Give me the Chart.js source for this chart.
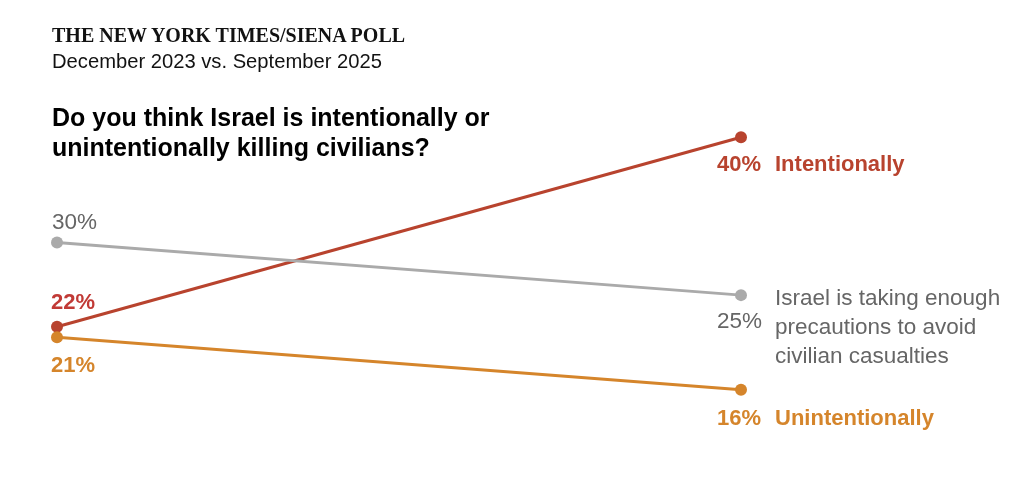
<!DOCTYPE html>
<html>
<head>
<meta charset="utf-8">
<script src="https://cdn.jsdelivr.net/npm/chart.js@4"></script>
<style>
  html, body { margin: 0; padding: 0; background: #fff; }
  #wrap { position: relative; width: 1024px; height: 483px; overflow: hidden; }
  #myChart { position: absolute; left: 0; top: 0; }
  .head { position: absolute; left: 52px; color: #121212; white-space: nowrap; }
  .kicker { top: 24px; font-family: "Liberation Serif", serif; font-weight: bold; font-size: 20px; }
  .sub { top: 50px; font-family: "Liberation Sans", sans-serif; font-size: 20.2px; }
  .question { top: 102px; font-family: "Liberation Sans", sans-serif; font-weight: bold; font-size: 25px; line-height: 30px; color: #000; }
</style>
</head>
<body>
<div id="wrap">
  <canvas id="myChart" width="1024" height="483"></canvas>
  <div class="head kicker">THE NEW YORK TIMES/SIENA POLL</div>
  <div class="head sub">December 2023 vs. September 2025</div>
  <div class="head question">Do you think Israel is intentionally or<br>unintentionally killing civilians?</div>
</div>
<script>
// data
const dates = ["December 2023", "September 2025"];
const intentionally = [22, 40];
const unintentionally = [21, 16];
const precautions = [30, 25];
const answers = ["Intentionally", "Unintentionally"];
const precautionLines = ["Israel is taking enough", "precautions to avoid", "civilian casualties"];

const red = "#b8432e";
const orange = "#d5852b";
const gray = "#aaaaaa";
const labelGray = "#666666";
const sans = "'Liberation Sans', Arial, sans-serif";

//labels drawn next to the points
const labelsPlugin = {
  id: "pointLabels",
  afterDatasetsDraw(chart) {
    const c = chart.ctx;
    const x = chart.scales.x;
    const y = chart.scales.y;
    const x0 = x.getPixelForValue(0);
    const x1 = x.getPixelForValue(1);
    c.save();
    c.textBaseline = "alphabetic";

    // left side
    c.textAlign = "left";
    c.font = "22.5px " + sans;
    c.fillStyle = labelGray;
    c.fillText(precautions[0] + "%", x0 - 5, y.getPixelForValue(precautions[0]) - 14);
    c.font = "bold 22px " + sans;
    c.fillStyle = "#c13a36";
    c.fillText(intentionally[0] + "%", x0 - 6, y.getPixelForValue(intentionally[0]) - 18);
    c.fillStyle = orange;
    c.fillText(unintentionally[0] + "%", x0 - 6, y.getPixelForValue(unintentionally[0]) + 35);

    // right side
    const ry = y.getPixelForValue(intentionally[1]) + 34;
    const oy = y.getPixelForValue(unintentionally[1]) + 35;
    c.fillStyle = red;
    c.fillText(intentionally[1] + "%", x1 - 24, ry);
    c.fillText(answers[0], x1 + 34, ry);
    c.fillStyle = orange;
    c.fillText(unintentionally[1] + "%", x1 - 24, oy);
    c.fillText(answers[1], x1 + 34, oy);

    c.font = "22.5px " + sans;
    c.fillStyle = labelGray;
    c.textAlign = "right";
    const gy = y.getPixelForValue(precautions[1]);
    c.fillText(precautions[1] + "%", x1 + 21, gy + 33);
    c.textAlign = "left";
    precautionLines.forEach((t, i) => c.fillText(t, x1 + 34, gy + 10 + i * 29));
    c.restore();
  }
};

const ctx = document.getElementById("myChart");

const chart = new Chart(ctx, {
  type: "line",
  data: {
    labels: dates,
    datasets: [
      { label: "Israel is taking enough precautions", data: precautions, borderColor: gray, backgroundColor: gray },
      { label: "Unintentionally", data: unintentionally, borderColor: orange, backgroundColor: orange },
      { label: "Intentionally", data: intentionally, borderColor: red, backgroundColor: red }
    ]
  },
  options: {
    responsive: false,
    animation: false,
    layout: { padding: { left: 57, right: 283, top: 32, bottom: 30 } },
    elements: {
      line: { borderWidth: 3, tension: 0 },
      point: { radius: 6, borderWidth: 0, hoverRadius: 6 }
    },
    scales: {
      x: { display: false, offset: false },
      y: { display: false, min: 10, max: 50 }
    },
    plugins: {
      legend: { display: false },
      tooltip: { enabled: false }
    }
  },
  plugins: [labelsPlugin]
});
</script>
</body>
</html>
